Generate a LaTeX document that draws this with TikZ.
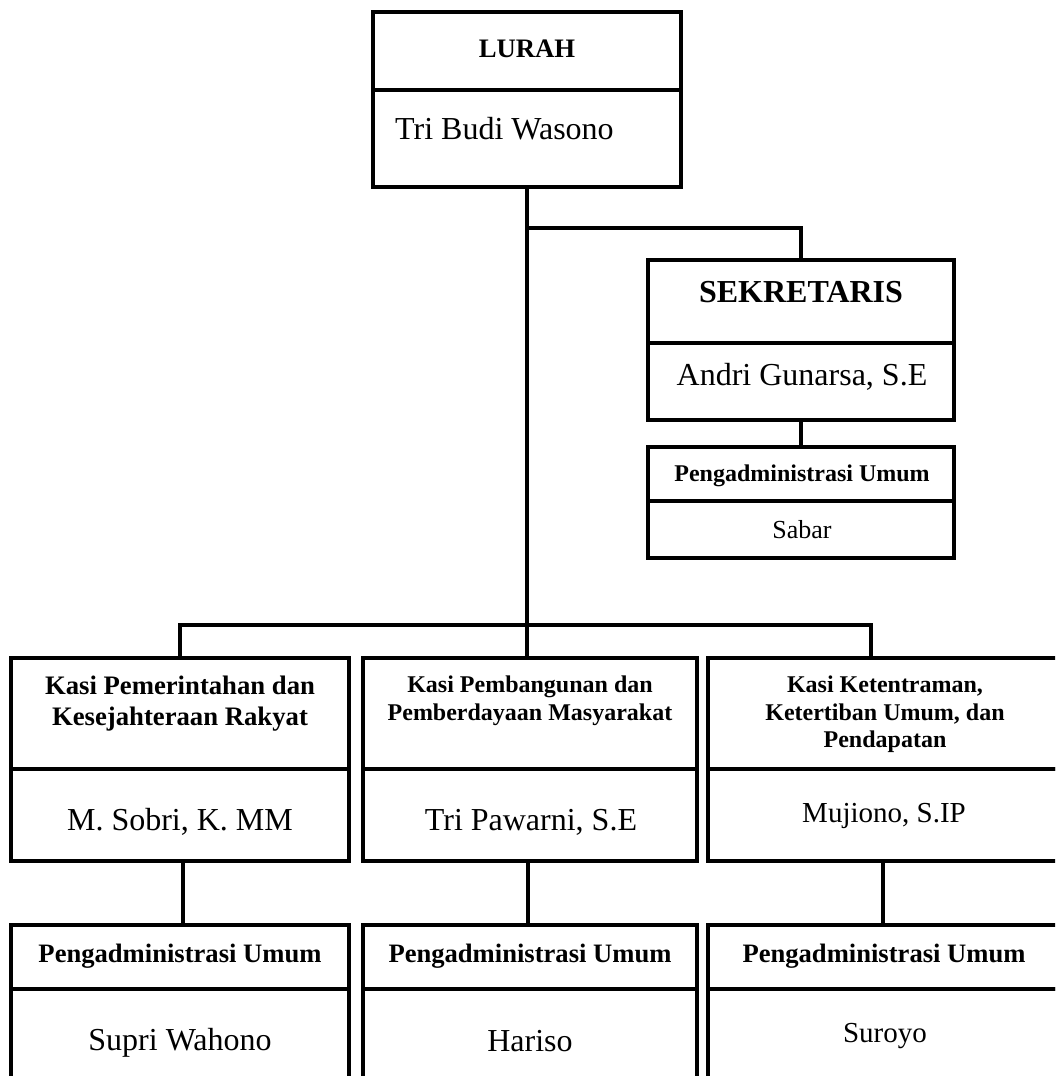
\documentclass[tikz,border=0pt]{standalone}
\usepackage{fontspec}
\setmainfont{Liberation Serif}
\newcommand{\fsz}[1]{\fontsize{#1}{1.15\dimexpr #1pt\relax}\selectfont}
\begin{document}
\begin{tikzpicture}[x=1pt,y=-1pt,
  cell/.style={draw, line width=4pt, inner sep=0pt, outer sep=0pt},
  conn/.style={line width=4pt},
  txt/.style={inner sep=0pt, anchor=base},
  ttl/.style={inner sep=0pt, anchor=north, align=center, font=\bfseries}]
\useasboundingbox (0,0) rectangle (1055,1076);
\clip (0,0) rectangle (1055,1076);
% ---- LURAH
\node[cell, minimum width=308pt, minimum height=78pt] (lurahT) at (527,51) {};
\node[cell, minimum width=308pt, minimum height=97pt] (lurahN) at (527,138.5) {};
\node[txt, font=\bfseries\fontsize{26.7}{30}\selectfont] (tLurah) at (527,57) {LURAH};
\node[txt, anchor=base west, font=\fontsize{32}{37}\selectfont] (tTri) at (395,139) {Tri Budi Wasono};
% ---- SEKRETARIS
\node[cell, minimum width=306pt, minimum height=83pt] (sekT) at (801,301.5) {};
\node[cell, minimum width=306pt, minimum height=77pt] (sekN) at (801,381.5) {};
\node[txt, font=\bfseries\fontsize{32}{37}\selectfont] (tSek) at (801,302) {SEKRETARIS};
\node[txt, font=\fontsize{32}{37}\selectfont] (tAndri) at (802,385) {Andri Gunarsa, S.E};
\node[cell, minimum width=306pt, minimum height=54pt] (sabT) at (801,474) {};
\node[cell, minimum width=306pt, minimum height=57pt] (sabN) at (801,529.5) {};
\node[txt, font=\bfseries\fontsize{24}{28}\selectfont] (tPengS) at (802,481) {Pengadministrasi Umum};
\node[txt, font=\fontsize{26}{30}\selectfont] (tSabar) at (802,538) {Sabar};
% ---- KASI boxes
\node[cell, minimum width=338pt, minimum height=111pt] (leftT) at (180,713.5) {};
\node[cell, minimum width=338pt, minimum height=92pt] (leftN) at (180,815) {};
\node[cell, minimum width=334pt, minimum height=111pt] (midT) at (530,713.5) {};
\node[cell, minimum width=334pt, minimum height=92pt] (midN) at (530,815) {};
\node[cell, minimum width=354pt, minimum height=111pt] (rightT) at (885,713.5) {};
\node[cell, minimum width=354pt, minimum height=92pt] (rightN) at (885,815) {};
\node[ttl, font=\bfseries\fontsize{26.7}{31}\selectfont] (tKasiA) at (180,676) {Kasi Pemerintahan dan\\Kesejahteraan Rakyat};
\node[ttl, font=\bfseries\fontsize{24}{27.3}\selectfont] (tKasiB) at (530,676) {Kasi Pembangunan dan\\Pemberdayaan Masyarakat};
\node[ttl, font=\bfseries\fontsize{24}{27.5}\selectfont] (tKasiC) at (885,676) {Kasi Ketentraman,\\Ketertiban Umum, dan\\Pendapatan};
\node[txt, font=\fontsize{32}{37}\selectfont] (tSobri) at (180,830) {M. Sobri, K. MM};
\node[txt, font=\fontsize{32}{37}\selectfont] (tPawarni) at (531,830) {Tri Pawarni, S.E};
\node[txt, font=\fontsize{29}{33}\selectfont] (tMujiono) at (884,822) {Mujiono, S.IP};
% ---- Pengadministrasi boxes
\node[cell, minimum width=338pt, minimum height=64pt] (leftAT) at (180,957) {};
\node[cell, minimum width=338pt, minimum height=111pt] (leftAN) at (180,1044.5) {};
\node[cell, minimum width=334pt, minimum height=64pt] (midAT) at (530,957) {};
\node[cell, minimum width=334pt, minimum height=111pt] (midAN) at (530,1044.5) {};
\node[cell, minimum width=354pt, minimum height=64pt] (rightAT) at (885,957) {};
\node[cell, minimum width=354pt, minimum height=111pt] (rightAN) at (885,1044.5) {};
\node[txt, font=\bfseries\fontsize{26.6}{30}\selectfont] (tPengL) at (180,962) {Pengadministrasi Umum};
\node[txt, font=\bfseries\fontsize{26.6}{30}\selectfont] (tPengM) at (530,962) {Pengadministrasi Umum};
\node[txt, font=\bfseries\fontsize{26.6}{30}\selectfont] (tPengR) at (884,962) {Pengadministrasi Umum};
\node[txt, font=\fontsize{32}{37}\selectfont] (tSupri) at (180,1050) {Supri Wahono};
\node[txt, font=\fontsize{32}{37}\selectfont] (tHariso) at (530,1051) {Hariso};
\node[txt, font=\fontsize{29}{33}\selectfont] (tSuroyo) at (885,1042) {Suroyo};
% ---- connectors
\coordinate (jSek) at (527,228);
\coordinate (jKasi) at (527,625);
\draw[conn] (lurahN.south) -- (lurahN.south |- midT.north);
\draw[conn] (jSek) -| (sekT.north);
\draw[conn] (sekN.south) -- (sabT.north);
\draw[conn] (leftT.north) |- (jKasi) -| ([xshift=-14pt]rightT.north);
\draw[conn] ([xshift=3pt]leftN.south) -- ([xshift=3pt]leftAT.north);
\draw[conn] ([xshift=-2pt]midN.south) -- ([xshift=-2pt]midAT.north);
\draw[conn] ([xshift=-2pt]rightN.south) -- ([xshift=-2pt]rightAT.north);
\end{tikzpicture}
\end{document}
